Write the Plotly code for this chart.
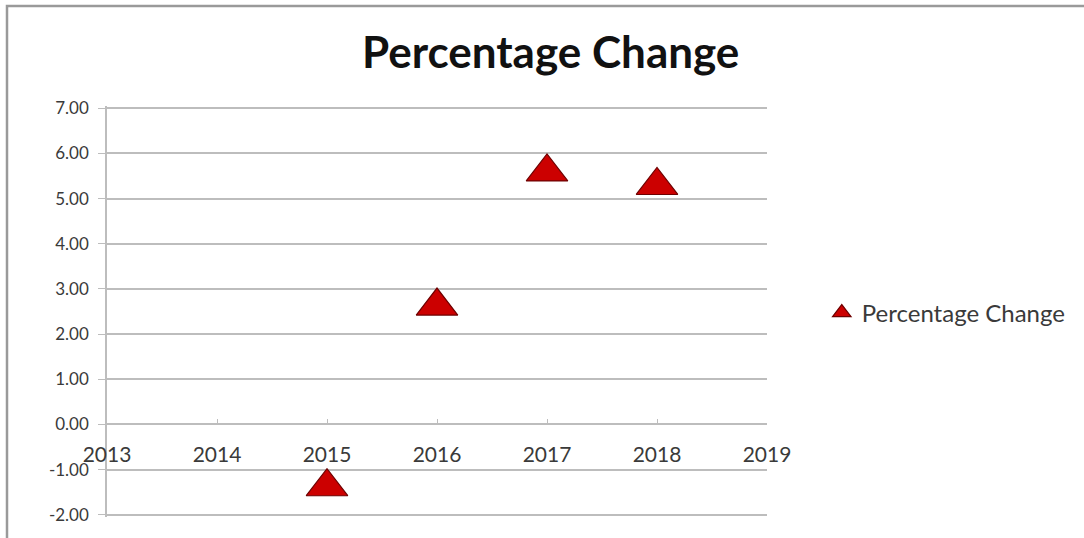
import plotly.graph_objects as go

# Annual percentage change
years = [2015, 2016, 2017, 2018]
pct_change = [-1.38, 2.62, 5.59, 5.29]

x_ticks = [2013, 2014, 2015, 2016, 2017, 2018, 2019]
y_ticks = [-2, -1, 0, 1, 2, 3, 4, 5, 6, 7]
y_tick_text = ["-2.00", "-1.00", "0.00", "1.00", "2.00", "3.00", "4.00", "5.00", "6.00", "7.00"]

series_name = "Percentage Change"
FONT = "Lato, 'Open Sans', sans-serif"
GRID = "#bdbdbd"
TEXT = "#3a3a3a"

# small padding so the gridlines at -2 and 7 are still drawn
y_lo, y_hi = -2.05, 7.05
pad_px = 2

fig = go.Figure()
fig.add_trace(go.Scatter(
    x=years, y=pct_change, mode="markers", name=series_name,
    marker=dict(symbol="triangle-up", size=36, color="#cc0000",
                line=dict(color="#6e0000", width=1.2)),
    showlegend=True,
))

plot_h = 538 - (108 - pad_px) - (23 - pad_px)
fig.update_layout(
    width=1084, height=538,
    margin=dict(l=107, r=317, t=108 - pad_px, b=23 - pad_px),
    paper_bgcolor="white", plot_bgcolor="white",
    font=dict(family=FONT, color=TEXT),
    title=dict(text="<b>Percentage Change</b>", x=0.508, xref="container",
               y=1 - 53 / 538, yref="container", xanchor="center", yanchor="middle",
               font=dict(size=44, color="#111111", family=FONT)),
    xaxis=dict(range=[2013, 2019], tickvals=x_ticks, ticktext=[str(v) for v in x_ticks],
               showgrid=False, zeroline=False, showline=True, linecolor=GRID, linewidth=1.5,
               ticks="inside", ticklen=5, tickcolor=GRID,
               anchor="free", position=(0 - y_lo) / (y_hi - y_lo), ticklabelstandoff=12,
               tickfont=dict(size=21, color=TEXT, family=FONT)),
    yaxis=dict(range=[y_lo, y_hi], tickvals=y_ticks, ticktext=y_tick_text,
               showgrid=True, gridcolor=GRID, gridwidth=1.5, zeroline=False,
               showline=True, linecolor=GRID, linewidth=1.5,
               ticks="outside", ticklen=7, tickcolor=GRID, ticklabelstandoff=6,
               tickfont=dict(size=17, color=TEXT, family=FONT)),
    legend=dict(x=1.083, y=(515 - 313 + pad_px) / plot_h, xanchor="left", yanchor="middle",
                font=dict(size=24, color=TEXT, family=FONT),
                bgcolor="rgba(0,0,0,0)", itemwidth=30),
    shapes=[dict(type="rect", xref="paper", yref="paper",
                 x0=(7 - 107) / 660, x1=(1100 - 107) / 660,
                 y0=(517 - 560) / plot_h, y1=(517 - 6) / plot_h,
                 line=dict(color="#9a9a9a", width=2.5), fillcolor="rgba(0,0,0,0)",
                 layer="below")],
)

fig.write_html("out.html")
